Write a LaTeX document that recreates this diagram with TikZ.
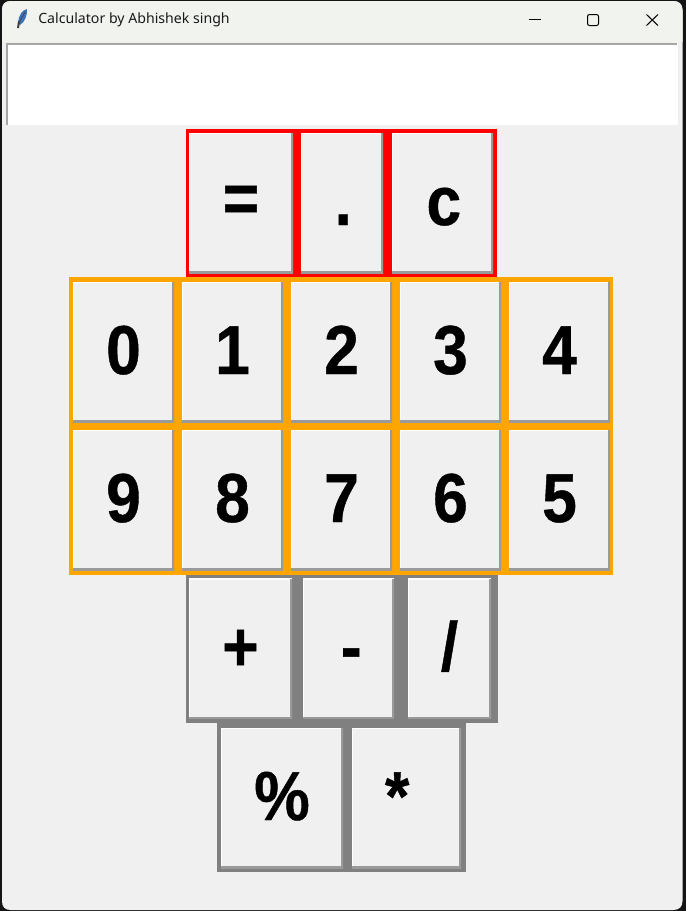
\documentclass[tikz,border=0pt]{standalone}
\usepackage{xcolor}
\usepackage{fontspec}
\setmainfont{Liberation Sans}
\newfontfamily\titlefont{Noto Sans}
\newfontfamily\keyfont{Liberation Sans Bold}[FakeBold=0.6,FakeStretch=0.9]
\usepackage{tikz}

\definecolor{framered}{RGB}{255,0,0}
\definecolor{frameorange}{RGB}{255,165,0}
\definecolor{framegray}{RGB}{128,128,128}
\definecolor{winface}{RGB}{240,240,240}
\definecolor{titleface}{RGB}{241,243,239}
\definecolor{deskdark}{RGB}{20,20,20}
\definecolor{featherblue}{RGB}{62,115,185}

\tikzset{
  btn/.style={inner sep=0pt,fill=winface,minimum height=105pt,text height=33pt,text depth=0pt,
    font=\fontsize{52}{60}\keyfont,
    path picture={
      \draw[white,line width=2pt] (path picture bounding box.south west) -- (path picture bounding box.north west) -- (path picture bounding box.north east);
      \draw[framegray!80!white,line width=2.4pt] (path picture bounding box.south west) -- (path picture bounding box.south east) -- (path picture bounding box.north east);
    }},
  framebox/.style={inner sep=0pt,fill=#1},
  ctrl/.style={line width=0.75pt,black},
}

\begin{document}
\begin{tikzpicture}[x=0.75pt,y=0.75pt,yscale=-1,xscale=1]
\useasboundingbox (0,0) rectangle (686,911);

%Shape: window
\path[fill=deskdark] (0,0) rectangle (686,911);
\path[fill=winface] (2,10) .. controls (2,4) and (5,1) .. (11,1) -- (673,1) .. controls (679,1) and (682.5,4) .. (682.5,10) -- (682.5,901) .. controls (682.5,907) and (679,910) .. (673,910) -- (11,910) .. controls (5,910) and (2,907) .. (2,901) -- cycle ;
%Shape: title bar
\path[fill=titleface] (2,42) -- (2,10) .. controls (2,4) and (5,1) .. (11,1) -- (673,1) .. controls (679,1) and (682.5,4) .. (682.5,10) -- (682.5,42) -- cycle ;
%Shape: entry
\path[fill=white] (6,43) rectangle (678,125);
\draw[framegray!70!white,line width=1.2pt] (6.8,125) -- (6.8,43.8) -- (677,43.8);

%Shape: feather icon
\path[fill=featherblue] (18,22) .. controls (19,15) and (22,10) .. (27,9) .. controls (27.5,15) and (25,22) .. (20,25) -- cycle ;
\path[fill=black!75] (17,28) -- (18,21) -- (20,22) -- (19,28) -- cycle ;
\draw[black!75,line width=0.5pt] (19,23) -- (25,12);

% Text Node
\node (titleText) [anchor=west,inner sep=0pt,font=\titlefont\fontsize{10.6}{12}\selectfont,text=black!90] at (38,20) {Calculator by Abhishek singh};

%Window controls
\coordinate (minLeft) at (529,19);
\coordinate (minRight) at (541,19);
\draw[ctrl] (minLeft) -- (minRight);
\draw[ctrl,rounded corners=1.5pt] (587.5,14.5) rectangle (598.5,25.5);
\coordinate (closeA) at (646.5,14.5);
\coordinate (closeB) at (658,25.5);
\coordinate (closeC) at (646.5,25.5);
\coordinate (closeD) at (658,14.5);
\draw[ctrl] (closeA) -- (closeB);
\draw[ctrl] (closeC) -- (closeD);

%Frames
\node (frameOps) [framebox=framered,minimum width=233pt,minimum height=111pt] at (341.5,203) {};
\node (frameTop) [framebox=frameorange,minimum width=408pt,minimum height=112pt] at (341,352) {};
\node (frameLow) [framebox=frameorange,minimum width=408pt,minimum height=112pt] at (341,500) {};
\node (frameArith) [framebox=framegray,minimum width=234pt,minimum height=111pt] at (342,649) {};
\node (frameMore) [framebox=framegray,minimum width=187pt,minimum height=112pt] at (341.5,797.5) {};

%Buttons row 1
\node (btnEq) [btn,minimum width=78pt,text height=28.5pt] at (241,203) {=};
\node (btnDot) [btn,minimum width=61.5pt] at (342,203) {\kern2pt.};
\node (btnClear) [btn,minimum width=75.75pt] at (442.5,203) {\kern2pt c};

%Buttons row 2
\node (btnZero) [btn,minimum width=75.75pt] at (123.5,352) {0};
\node (btnOne) [btn,minimum width=75.75pt] at (232.5,352) {1};
\node (btnTwo) [btn,minimum width=75.75pt] at (341.5,352) {2};
\node (btnThree) [btn,minimum width=75.75pt] at (450.5,352) {3};
\node (btnFour) [btn,minimum width=75.75pt] at (559.5,352) {4};

%Buttons row 3
\node (btnNine) [btn,minimum width=75.75pt] at (123.5,500) {9};
\node (btnEight) [btn,minimum width=75.75pt] at (232.5,500) {8};
\node (btnSeven) [btn,minimum width=75.75pt] at (341.5,500) {7};
\node (btnSix) [btn,minimum width=75.75pt] at (450.5,500) {6};
\node (btnFive) [btn,minimum width=75.75pt] at (559.5,500) {5};

%Buttons row 4
\node (btnPlus) [btn,minimum width=77.25pt] at (240.5,648.5) {+};
\node (btnMinus) [btn,minimum width=68.25pt] at (348.5,648.5) {\kern4pt-};
\node (btnSlash) [btn,minimum width=62.25pt] at (449.5,648.5) {/};

%Buttons row 5
\node (btnMod) [btn,minimum width=91.5pt] at (282,798) {\%};
\node (btnTimes) [btn,minimum width=81.75pt] at (406.5,798) {*\kern14pt};

\end{tikzpicture}
\end{document}
